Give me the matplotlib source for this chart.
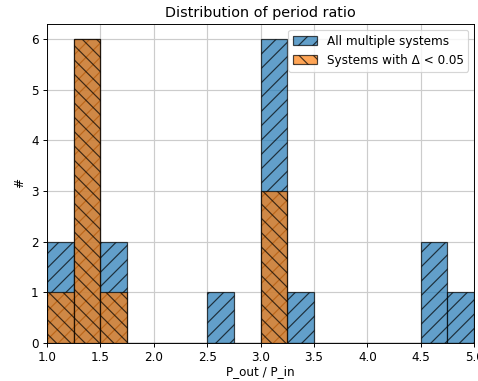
import matplotlib
matplotlib.use('Agg')
import matplotlib.pyplot as plt
import numpy as np

bin_edges = np.arange(1.0, 5.01, 0.25)
# counts per 0.25-wide bin of P_out / P_in
all_counts = [2, 6, 2, 0, 0, 0, 1, 0, 6, 1, 0, 0, 0, 0, 2, 1]
low_delta_counts = [1, 6, 1, 0, 0, 0, 0, 0, 3, 0, 0, 0, 0, 0, 0, 0]

DPI = 86
fig, ax = plt.subplots(figsize=(478 / DPI, 381 / DPI), dpi=DPI)
fig.subplots_adjust(left=0.098, right=0.992, top=0.937, bottom=0.1)

centers = bin_edges[:-1]
ax.hist(centers, bins=bin_edges, weights=all_counts, color='C0', alpha=0.7,
        edgecolor='k', linewidth=1.0, hatch='//', label='All multiple systems')
ax.hist(centers, bins=bin_edges, weights=low_delta_counts, color='C1', alpha=0.7,
        edgecolor='k', linewidth=1.0, hatch='\\\\', label='Systems with Δ < 0.05')

ax.set_xlim(1.0, 5.0)
ax.set_ylim(0, 6.3)
ax.set_xticks(np.arange(1.0, 5.01, 0.5))
ax.grid(True, color='#cccccc', linewidth=1.0)
ax.set_axisbelow(True)
ax.set_xlabel('P_out / P_in', labelpad=1)
ax.set_ylabel('#')
ax.set_title('Distribution of period ratio')
ax.legend(loc='upper right')

plt.savefig('out.png', dpi=DPI)
